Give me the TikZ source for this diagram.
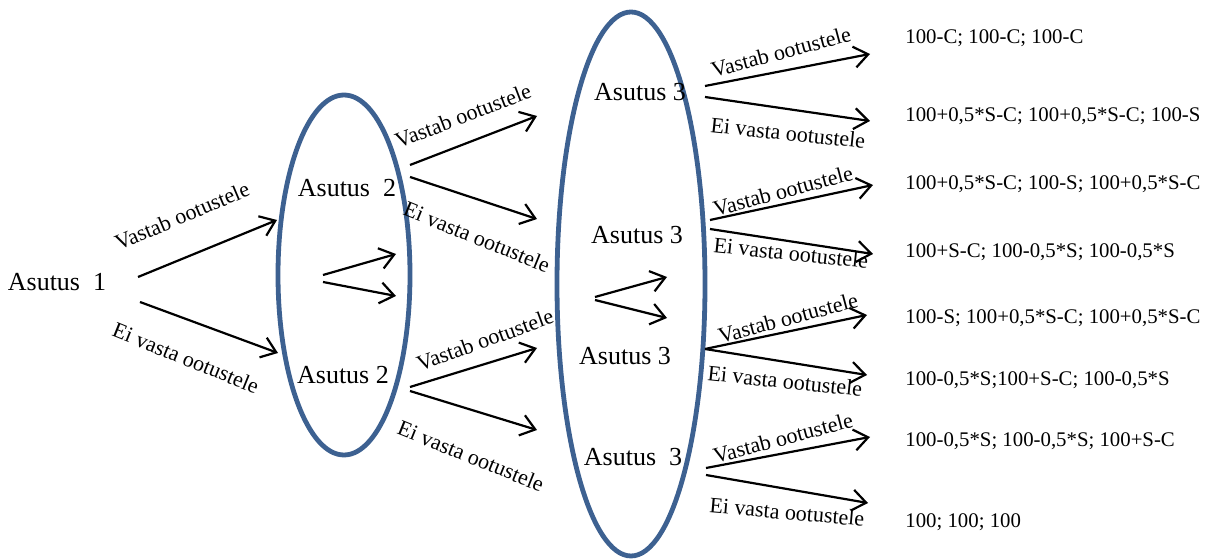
\documentclass[tikz,border=0pt]{standalone}
\usepackage{fontspec}
\setmainfont{Liberation Serif}
\usetikzlibrary{arrows.meta,shapes.geometric}
\definecolor{ovalblue}{HTML}{3D6191}

\tikzset{
  arr/.style={line width=1.1pt,-{Straight Barb[length=7pt,width=10.5pt,line width=1.1pt]}},
  oval/.style={draw=ovalblue,line width=2.4pt,ellipse,inner sep=0pt},
  firm/.style={font=\fontsize{13}{15}\selectfont},
  lbl/.style={font=\fontsize{11}{13}\selectfont,inner sep=0pt},
  pay/.style={font=\fontsize{10.4}{12}\selectfont,anchor=west,inner sep=0pt}
}

\begin{document}
\begin{tikzpicture}[x=0.5pt,y=-0.5pt]
    \useasboundingbox (0,0) rectangle (1216,560);

    % ovals (groups)
    \node[oval,minimum width=66pt,minimum height=180pt] (grp2) at (344,275) {};
    \node[oval,minimum width=74pt,minimum height=272pt] (grp3) at (631,284) {};

    % nodes (firms)
    \node[firm] (f1) at (57,282) {Asutus\ \ 1};
    \node[firm] (f2a) at (347,188) {Asutus\ \ 2};
    \node[firm] (f2b) at (343,375) {Asutus 2};
    \node[firm] (f3a) at (640,92) {Asutus 3};
    \node[firm] (f3b) at (637,235) {Asutus 3};
    \node[firm] (f3c) at (625,356) {Asutus 3};
    \node[firm] (f3d) at (633,457) {Asutus\ \ 3};

    % arrow ends
    \coordinate (a1s) at (138,277); \coordinate (a1e) at (277,220);
    \coordinate (b1s) at (140,302); \coordinate (b1e) at (278,353);
    \coordinate (m2s) at (323,275); \coordinate (m2u) at (396,254);
    \coordinate (m2t) at (323,282); \coordinate (m2d) at (396,296);
    \coordinate (a2s) at (410,165); \coordinate (a2e) at (537,116);
    \coordinate (b2s) at (410,177); \coordinate (b2e) at (537,219);
    \coordinate (c2s) at (410,387); \coordinate (c2e) at (537,348);
    \coordinate (d2s) at (410,391); \coordinate (d2e) at (537,430);
    \coordinate (m3s) at (595,297); \coordinate (m3u) at (667,277);
    \coordinate (m3t) at (595,300); \coordinate (m3d) at (667,318);
    \coordinate (a3s) at (705,86);  \coordinate (a3e) at (870,54);
    \coordinate (b3s) at (705,97);  \coordinate (b3e) at (870,121);
    \coordinate (c3s) at (710,220); \coordinate (c3e) at (873,185);
    \coordinate (d3s) at (710,229); \coordinate (d3e) at (873,254);
    \coordinate (e3s) at (705,349); \coordinate (e3e) at (867,315);
    \coordinate (f3s) at (705,349); \coordinate (f3e) at (867,375);
    \coordinate (g3s) at (706,468); \coordinate (g3e) at (870,437);
    \coordinate (h3s) at (706,475); \coordinate (h3e) at (868,503);

    % paths
    \draw[arr] (a1s) to (a1e);
    \draw[arr] (b1s) to (b1e);
    \draw[arr] (m2s) to (m2u);
    \draw[arr] (m2t) to (m2d);
    \draw[arr] (a2s) to (a2e);
    \draw[arr] (b2s) to (b2e);
    \draw[arr] (c2s) to (c2e);
    \draw[arr] (d2s) to (d2e);
    \draw[arr] (m3s) to (m3u);
    \draw[arr] (m3t) to (m3d);
    \draw[arr] (a3s) to (a3e);
    \draw[arr] (b3s) to (b3e);
    \draw[arr] (c3s) to (c3e);
    \draw[arr] (d3s) to (d3e);
    \draw[arr] (e3s) to (e3e);
    \draw[arr] (f3s) to (f3e);
    \draw[arr] (g3s) to (g3e);
    \draw[arr] (h3s) to (h3e);

    % labels on arrows
    \node[lbl,rotate=23] (la1) at (182,216) {Vastab ootustele};
    \node[lbl,rotate=-22] (lb1) at (186,358) {Ei vasta ootustele};
    \node[lbl,rotate=21] (la2) at (463,116) {Vastab ootustele};
    \node[lbl,rotate=-22] (lb2) at (477,237) {Ei vasta ootustele};
    \node[lbl,rotate=20] (lc2) at (485,340) {Vastab ootustele};
    \node[lbl,rotate=-22] (ld2) at (471,456) {Ei vasta ootustele};
    \node[lbl,rotate=15] (la3) at (781,52) {Vastab ootustele};
    \node[lbl,rotate=-6] (lb3) at (788,133) {Ei vasta ootustele};
    \node[lbl,rotate=15] (lc3) at (783,191) {Vastab ootustele};
    \node[lbl,rotate=-6] (ld3) at (791,253) {Ei vasta ootustele};
    \node[lbl,rotate=15] (le3) at (788,318) {Vastab ootustele};
    \node[lbl,rotate=-6] (lf3) at (785,381) {Ei vasta ootustele};
    \node[lbl,rotate=15] (lg3) at (783,438) {Vastab ootustele};
    \node[lbl,rotate=-5] (lh3) at (787,512) {Ei vasta ootustele};

    % payoffs
    \node[pay] (p1) at (905,38) {100-C; 100-C; 100-C};
    \node[pay] (p2) at (905,116) {100+0,5*S-C; 100+0,5*S-C; 100-S};
    \node[pay] (p3) at (905,184) {100+0,5*S-C; 100-S; 100+0,5*S-C};
    \node[pay] (p4) at (905,252) {100+S-C; 100-0,5*S; 100-0,5*S};
    \node[pay] (p5) at (905,318) {100-S; 100+0,5*S-C; 100+0,5*S-C};
    \node[pay] (p6) at (905,380) {100-0,5*S;100+S-C; 100-0,5*S};
    \node[pay] (p7) at (905,441) {100-0,5*S; 100-0,5*S; 100+S-C};
    \node[pay] (p8) at (905,522) {100; 100; 100};

\end{tikzpicture}
\end{document}
